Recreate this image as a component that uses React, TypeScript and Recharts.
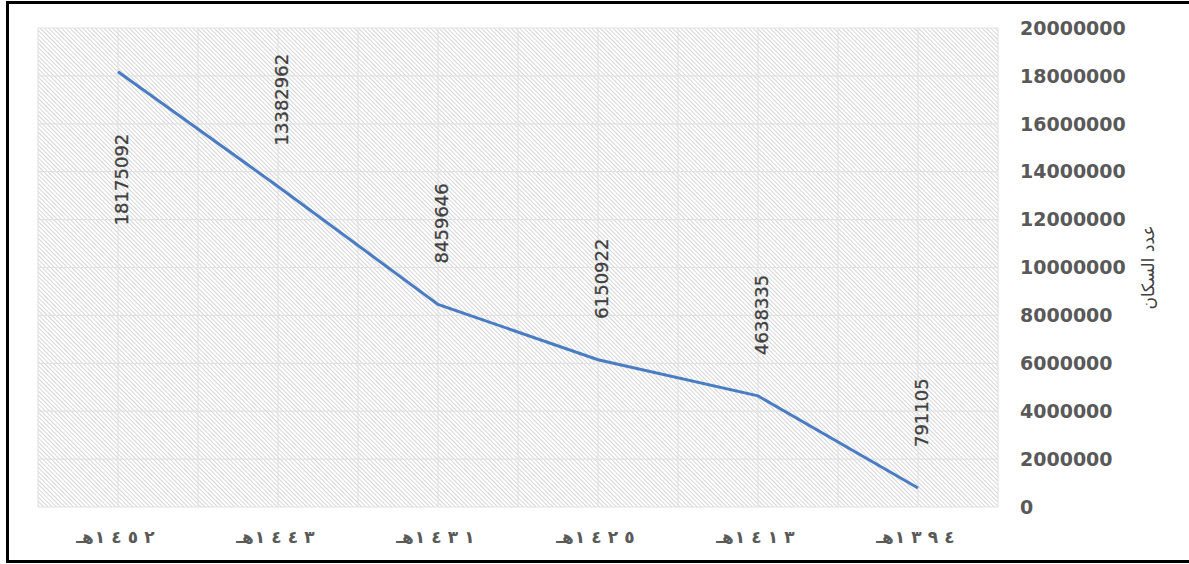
import { LineChart, Line, XAxis, YAxis, CartesianGrid, LabelList, Label } from 'recharts';

// years (Hijri), left to right as in the picture
const years = ['١٤٥٢هـ', '١٤٤٣هـ', '١٤٣١هـ', '١٤٢٥هـ', '١٤١٣هـ', '١٣٩٤هـ'];
const population = [18175092, 13382962, 8459646, 6150922, 4638335, 791105];
const yTicks = [0, 2000000, 4000000, 6000000, 8000000, 10000000, 12000000, 14000000, 16000000, 18000000, 20000000];
const yTitle = 'عدد السكان';

const data = years.map((year, i) => ({ year, population: population[i] }));

const PLOT_TOP = 28;

// eslint-disable-next-line @typescript-eslint/no-explicit-any
function ValueLabel({ x, y, value }: any) {
  const text = String(value);
  const len = text.length * 11.5;
  const above = y - 41 - len > PLOT_TOP;
  const ty = above ? y - 41 : y + 62;
  return (
    <text
      x={x + 4} y={ty}
      transform={`rotate(-90 ${x + 4} ${ty})`}
      textAnchor={above ? 'start' : 'end'}
      dominantBaseline="central"
      fontFamily="'DejaVu Sans', sans-serif" fontSize={18} fill="#404040"
      stroke="#404040" strokeWidth={0.3}
    >
      {text}
    </text>
  );
}

// eslint-disable-next-line @typescript-eslint/no-explicit-any
function YTitle({ viewBox }: any) {
  const x = viewBox.x + 150;
  const y = viewBox.y + viewBox.height / 2;
  return (
    <text
      x={x} y={y} transform={`rotate(-90 ${x} ${y})`}
      textAnchor="middle" dominantBaseline="central"
      fontFamily="'DejaVu Sans', sans-serif" fontSize={17} fill="#404040"
    >
      {yTitle}
    </text>
  );
}

// Chrome ignores letter-spacing on Arabic script, so the wide spacing of the
// year labels is done with one tspan per digit (logical order kept)
// eslint-disable-next-line @typescript-eslint/no-explicit-any
function XTick({ x, y, payload }: any) {
  const label: string = payload.value;
  const m = label.match(/^([\u0660-\u0669]+)(.*)$/);
  const digits = m ? m[1].split('') : [];
  const suffix = m ? m[2] : label;
  const step = 16.5;
  const first = x - 18;
  return (
    <text
      y={y} dy={28} textAnchor="middle"
      fontFamily="'DejaVu Sans', sans-serif" fontSize={17} fontWeight={700} fill="#595959"
    >
      {digits.map((d, i) => (
        <tspan key={i} x={first + i * step}>{d}</tspan>
      ))}
      <tspan x={x - 33}>{suffix}</tspan>
    </text>
  );
}

export default function App() {
  return (
    <div style={{ position: 'absolute', left: 0, top: 0, width: 1189, height: 564, overflow: 'hidden', background: '#fff' }}>
      <div style={{ position: 'absolute', left: 6, top: 1, width: 1200, height: 556, border: '3px solid #000' }} />
      <div style={{ position: 'absolute', left: 0, top: 0 }}>
        <LineChart width={1189} height={564} data={data} margin={{ top: 28, right: 21, bottom: 17, left: 38 }}>
          <defs>
            <pattern id="hatch" patternUnits="userSpaceOnUse" width={3} height={3} patternTransform="rotate(45)">
              <rect x={0} y={0} width={3} height={1} fill="#d6d6d6" />
            </pattern>
          </defs>
          <CartesianGrid
            fill="url(#hatch)" fillOpacity={1} stroke="#e2e2e2" strokeWidth={1.2}
            // eslint-disable-next-line @typescript-eslint/no-explicit-any
            verticalCoordinatesGenerator={({ offset }: any) =>
              Array.from({ length: 13 }, (_, i) => offset.left + (i * offset.width) / 12)}
          />
          <XAxis
            dataKey="year" axisLine={false} tickLine={false} height={40}
            padding={{ left: 80, right: 80 }} tick={<XTick />} interval={0}
          />
          <YAxis
            orientation="right" domain={[0, 20000000]} ticks={yTicks} width={170}
            axisLine={false} tickLine={false} tickMargin={16}
            tick={{ fontFamily: "'DejaVu Sans', sans-serif", fontSize: 19, fill: '#595959', fontWeight: 600 }}
            label={<Label content={<YTitle />} />}
          />
          <Line
            type="linear" dataKey="population" stroke="#4a7cc4" strokeWidth={3}
            dot={false} isAnimationActive={false}
          >
            <LabelList dataKey="population" content={<ValueLabel />} />
          </Line>
        </LineChart>
      </div>
    </div>
  );
}
